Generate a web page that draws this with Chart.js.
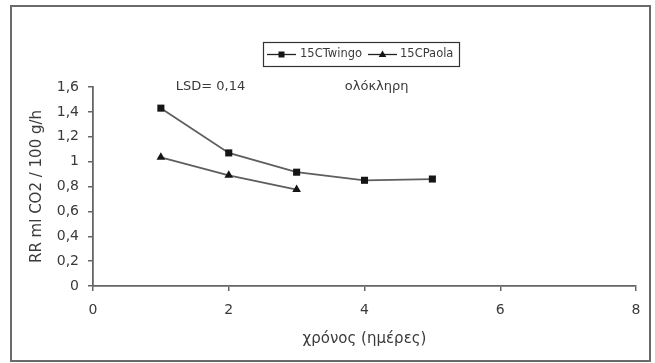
<!DOCTYPE html>
<html>
<head>
<meta charset="utf-8">
<script src="https://cdn.jsdelivr.net/npm/chart.js@4"></script>
<style>
html,body{margin:0;padding:0;background:#fff;}
#wrap{width:655px;height:363px;position:relative;}
canvas{display:block;}
</style>
</head>
<body>
<div id="wrap"><canvas id="c" width="655" height="363"></canvas></div>
<script>
// ---- data ----
const twingoX = [1, 2, 3, 4, 5];
const twingoY = [1.43, 1.07, 0.915, 0.85, 0.86];
const paolaX = [1, 2, 3];
const paolaY = [1.035, 0.89, 0.775];
const seriesNames = ['15CTwingo', '15CPaola'];
const xTicks = [0, 2, 4, 6, 8];
const xTickLabels = ['0', '2', '4', '6', '8'];
const yTicks = [0, 0.2, 0.4, 0.6, 0.8, 1, 1.2, 1.4, 1.6];
const yTickLabels = ['0', '0,2', '0,4', '0,6', '0,8', '1', '1,2', '1,4', '1,6'];
const xTitle = 'χρόνος (ημέρες)';
const yTitle = 'RR ml CO2 / 100 g/h';
const notes = ['LSD= 0,14', 'ολόκληρη'];
const noteX = [1.22, 3.71];

const FONT = "'DejaVu Sans', sans-serif";
const TXT = '#3a3a3a';
const LINE = '#5e5e5e';
const MARK = '#151515';

function pts(xs, ys) { return xs.map((x, i) => ({x: x, y: ys[i]})); }

const decor = {
  id: 'decor',
  afterDraw(chart) {
    const ctx = chart.ctx;
    ctx.save();
    // outer frame
    ctx.strokeStyle = '#6a6a6a';
    ctx.lineWidth = 2;
    ctx.strokeRect(11, 6, 639, 355);
    // legend box
    const bx = 263, by = 42, bw = 196, bh = 24;
    ctx.strokeStyle = '#333';
    ctx.lineWidth = 1.2;
    ctx.strokeRect(bx + 0.5, by + 0.5, bw, bh);
    const cy = by + bh / 2 + 0.5;
    const items = [{x0: 267, x1: 296, tx: 300}, {x0: 368, x1: 397, tx: 400}];
    chart.data.datasets.forEach((ds, i) => {
      const it = items[i];
      ctx.strokeStyle = '#222';
      ctx.lineWidth = 1.3;
      ctx.beginPath(); ctx.moveTo(it.x0, cy); ctx.lineTo(it.x1, cy); ctx.stroke();
      const mx = (it.x0 + it.x1) / 2;
      ctx.fillStyle = MARK;
      if (ds.pointStyle === 'rect') {
        ctx.fillRect(mx - 3, cy - 3, 6, 6);
      } else {
        ctx.beginPath();
        ctx.moveTo(mx, cy - 4); ctx.lineTo(mx + 3.8, cy + 2.5); ctx.lineTo(mx - 3.8, cy + 2.5);
        ctx.closePath(); ctx.fill();
      }
      ctx.fillStyle = TXT;
      ctx.font = '11.5px ' + FONT;
      ctx.textBaseline = 'middle';
      ctx.textAlign = 'left';
      ctx.fillText(ds.label, it.tx, cy);
    });
    // notes
    const xs = chart.scales.x, ys = chart.scales.y;
    ctx.font = '13px ' + FONT;
    ctx.fillStyle = TXT;
    ctx.textBaseline = 'middle';
    notes.forEach((t, i) => {
      ctx.fillText(t, xs.getPixelForValue(noteX[i]), ys.getPixelForValue(1.6));
    });
    ctx.restore();
  }
};

new Chart(document.getElementById('c'), {
  type: 'line',
  data: {
    datasets: [
      {label: seriesNames[0], data: pts(twingoX, twingoY), borderColor: LINE, borderWidth: 1.8,
       pointStyle: 'rect', pointRadius: 5, pointBackgroundColor: MARK, pointBorderColor: MARK, pointBorderWidth: 0, fill: false, tension: 0},
      {label: seriesNames[1], data: pts(paolaX, paolaY), borderColor: LINE, borderWidth: 1.8,
       pointStyle: 'triangle', pointRadius: 5, pointBackgroundColor: MARK, pointBorderColor: MARK, pointBorderWidth: 0, fill: false, tension: 0}
    ]
  },
  options: {
    responsive: false,
    animation: false,
    devicePixelRatio: 1,
    layout: {padding: {top: 87, right: 19, left: 0, bottom: 0}},
    plugins: {legend: {display: false}, tooltip: {enabled: false}},
    scales: {
      x: {
        type: 'linear', min: 0, max: 8,
        afterBuildTicks: s => { s.ticks = xTicks.map(v => ({value: v})); },
        afterFit: s => { s.height = 77; },
        ticks: {callback: (v, i) => xTickLabels[i], color: TXT, font: {family: FONT, size: 14}, padding: 11, maxRotation: 0},
        grid: {display: true, drawOnChartArea: false, drawTicks: true, tickLength: 5, color: '#666', lineWidth: 1.5},
        border: {display: true, color: '#666', width: 1.8},
        title: {display: true, text: xTitle, color: TXT, font: {family: FONT, size: 15}, padding: {top: 0, bottom: 15}}
      },
      y: {
        type: 'linear', min: 0, max: 1.6,
        afterBuildTicks: s => { s.ticks = yTicks.map(v => ({value: v})); },
        afterFit: s => { s.width = 93; },
        ticks: {callback: (v, i) => yTickLabels[i], color: TXT, font: {family: FONT, size: 14}, padding: 9},
        grid: {display: true, drawOnChartArea: false, drawTicks: true, tickLength: 5, color: '#666', lineWidth: 1.5},
        border: {display: true, color: '#666', width: 1.8},
        title: {display: true, text: yTitle, color: TXT, font: {family: FONT, size: 15}, padding: {top: 28, bottom: 0}}
      }
    }
  },
  plugins: [decor]
});
</script>
</body>
</html>
